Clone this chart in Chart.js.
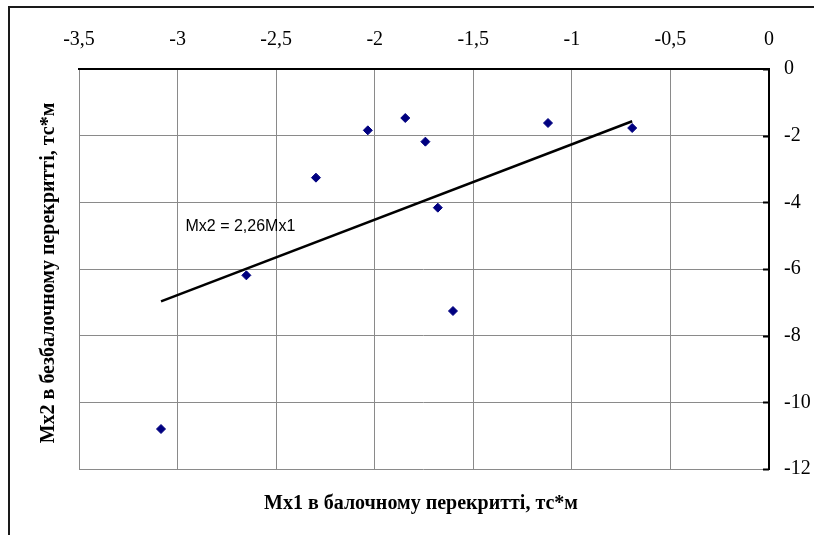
<!DOCTYPE html>
<html>
<head>
<meta charset="utf-8">
<script src="https://cdn.jsdelivr.net/npm/chart.js@4"></script>
<style>
  html, body { margin: 0; padding: 0; background: #fff; }
  #wrap { width: 814px; height: 535px; }
</style>
</head>
<body>
<div id="wrap"><canvas id="chart_Mx"></canvas></div>
<script>
// моменти Mx1 (балочне) і Mx2 (безбалочне), тс*м
var mx1 = [-1.845, -2.035, -1.743, -2.298, -1.68, -2.651, -1.603, -1.121, -0.694, -3.084];
var mx2 = [-1.47, -1.84, -2.18, -3.26, -4.16, -6.19, -7.26, -1.62, -1.77, -10.8];
var trendK = 2.26;
var trendLabel = 'Mx2 = 2,26Mx1';
var xTitle = 'Mx1 в балочному перекритті, тс*м';
var yTitle = 'Mx2 в безбалочному перекритті, тс*м';

function buildPoints() {
  var pts = [];
  for (var i = 0; i < mx1.length; i++) {
    pts.push({ x: mx1[i], y: mx2[i] });
  }
  return pts;
}

function buildTrend() {
  var xMin = Math.min.apply(null, mx1);
  var xMax = Math.max.apply(null, mx1);
  return [{ x: xMin, y: trendK * xMin }, { x: xMax, y: trendK * xMax }];
}

function commaNum(v) {
  return String(v).replace('.', ',');
}

// рамка навколо діаграми, підписи осей, внутрішні засічки і рівняння тренду
var decor = {
  id: 'decor',
  beforeDraw: function (chart) {
    var ctx = chart.ctx;
    ctx.save();
    ctx.strokeStyle = '#1a1a1a';
    ctx.lineWidth = 2;
    ctx.beginPath();
    ctx.moveTo(9, 540);
    ctx.lineTo(9, 7);
    ctx.lineTo(820, 7);
    ctx.stroke();
    ctx.restore();
  },
  afterDraw: function (chart) {
    var ctx = chart.ctx;
    var xs = chart.scales.x, ys = chart.scales.y;
    var area = chart.chartArea;

    ctx.save();
    ctx.strokeStyle = '#000';
    ctx.lineWidth = 2;
    ctx.beginPath();
    for (var i = 0; i < ys.ticks.length; i++) {
      var py = Math.round(ys.getPixelForValue(ys.ticks[i].value)) + 0.5;
      ctx.moveTo(area.right - 6, py);
      ctx.lineTo(area.right, py);
    }
    ctx.stroke();
    ctx.restore();

    ctx.save();
    ctx.fillStyle = '#000';
    ctx.font = 'bold 20px "Liberation Serif", "Times New Roman", serif';
    ctx.textAlign = 'center';
    ctx.textBaseline = 'middle';
    ctx.fillText(xTitle, 421, 504);
    ctx.translate(49, 273);
    ctx.rotate(-Math.PI / 2);
    ctx.fillText(yTitle, 0, 0);
    ctx.restore();

    ctx.save();
    ctx.fillStyle = '#000';
    ctx.font = '16px "Liberation Sans", Arial, sans-serif';
    ctx.textAlign = 'left';
    ctx.textBaseline = 'middle';
    ctx.fillText(trendLabel, xs.getPixelForValue(-2.96), ys.getPixelForValue(-4.73));
    ctx.restore();
  }
};

new Chart(document.getElementById('chart_Mx'), {
  type: 'scatter',
  data: {
    datasets: [{
      label: 'Mx',
      data: buildPoints(),
      backgroundColor: '#000080',
      borderColor: '#000080',
      borderWidth: 1,
      pointStyle: 'rectRot',
      pointRadius: 4.5,
      pointHoverRadius: 4.5
    }, {
      type: 'line',
      label: trendLabel,
      data: buildTrend(),
      borderColor: '#000',
      borderWidth: 2.5,
      pointRadius: 0,
      fill: false
    }]
  },
  options: {
    responsive: true,
    maintainAspectRatio: false,
    animation: false,
    events: [],
    layout: { padding: { left: 79, top: 0, right: 0, bottom: 66 } },
    plugins: {
      legend: { display: false },
      tooltip: { enabled: false }
    },
    scales: {
      x: {
        type: 'linear',
        position: 'top',
        min: -3.5,
        max: 0,
        afterFit: function (scale) { scale.height = 69; },
        ticks: {
          stepSize: 0.5,
          padding: 17,
          color: '#000',
          font: { family: '"Liberation Serif", "Times New Roman", serif', size: 20 },
          maxRotation: 0,
          callback: function (v) { return commaNum(v); }
        },
        grid: { color: '#8a8a8a', lineWidth: 1, drawTicks: false },
        border: { color: '#000', width: 2 }
      },
      y: {
        type: 'linear',
        position: 'right',
        min: -12,
        max: 0,
        afterFit: function (scale) { scale.width = 45; },
        ticks: {
          stepSize: 2,
          padding: 15,
          color: '#000',
          font: { family: '"Liberation Serif", "Times New Roman", serif', size: 20 },
          callback: function (v) { return commaNum(v); }
        },
        grid: { color: '#8a8a8a', lineWidth: 1, drawTicks: false },
        border: { color: '#000', width: 2 }
      }
    }
  },
  plugins: [decor]
});
</script>
</body>
</html>
